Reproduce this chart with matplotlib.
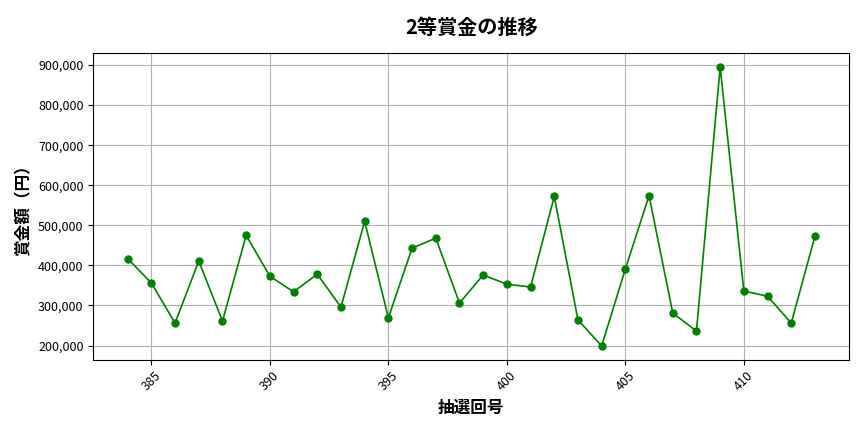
import matplotlib
matplotlib.use("Agg")
import matplotlib.pyplot as plt
from matplotlib.ticker import FuncFormatter

plt.rcParams['font.family'] = ['Noto Sans CJK JP', 'DejaVu Sans']

draws = list(range(384, 414))
prizes = [417000, 356000, 256000, 411000, 261000, 475000, 373000, 334000, 378000, 296000,
          510000, 269000, 443000, 468000, 306000, 376000, 353000, 346000, 572000, 264000,
          199000, 391000, 574000, 281000, 236000, 895000, 336000, 323000, 256000, 473000]

fig, ax = plt.subplots(figsize=(8.64, 4.32), dpi=100)
fig.subplots_adjust(left=0.108, right=0.983, top=0.877, bottom=0.167)

ax.plot(draws, prizes, color='green', marker='o', markersize=5, linewidth=1.2)
ax.set_title('2等賞金の推移', fontsize=14.5, fontweight='bold', pad=14)
ax.set_xlabel('抽選回号', fontsize=12, fontweight='bold')
ax.set_ylabel('賞金額（円）', fontsize=12, fontweight='bold')
ax.yaxis.set_major_formatter(FuncFormatter(lambda v, p: f'{int(v):,}'))
ax.grid(True, color='#b0b0b0', linewidth=0.8)
ax.tick_params(axis='x', labelrotation=45, labelsize=9)
ax.tick_params(axis='y', labelsize=9)

fig.savefig('out.png', dpi=100)
